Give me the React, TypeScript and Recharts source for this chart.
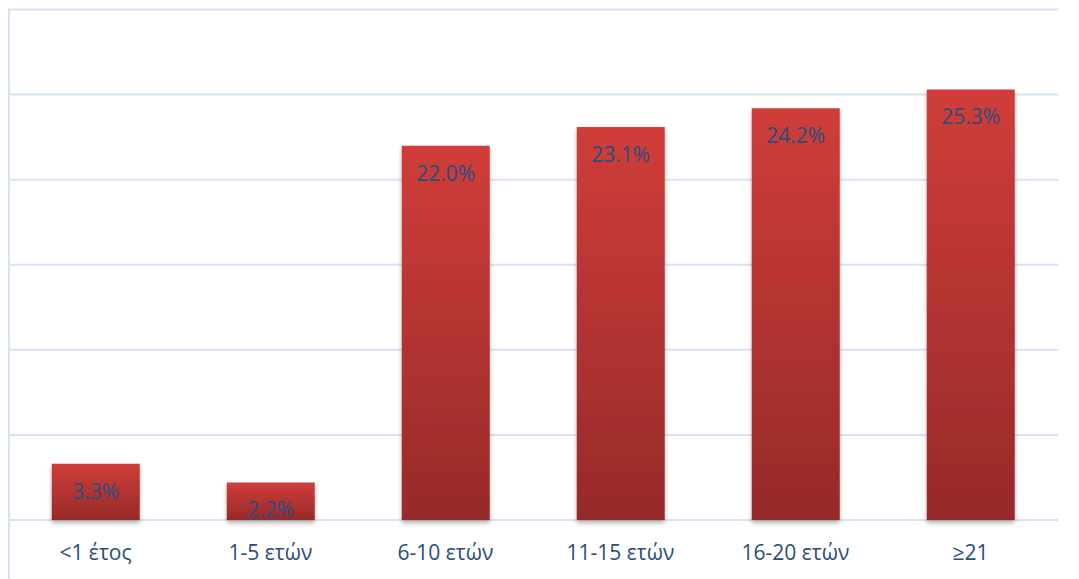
import { BarChart, Bar, XAxis, YAxis, CartesianGrid, LabelList } from 'recharts';

const categories = ['<1 έτος', '1-5 ετών', '6-10 ετών', '11-15 ετών', '16-20 ετών', '≥21'];
const shares = [3.3, 2.2, 22.0, 23.1, 24.2, 25.3];
const yTicks = [0, 5, 10, 15, 20, 25, 30];

const data = categories.map((name, i) => ({ name, share: shares[i] }));

const FONT = '"Open Sans", "Noto Sans", sans-serif';

export default function App() {
  return (
    <div style={{ position: 'relative', width: 1060, height: 571 }}>
      {/* left border that runs the full height */}
      <div style={{ position: 'absolute', left: 0, top: 0, width: 2, height: 571, background: '#d7e3f3' }} />
      <BarChart
        width={1052}
        height={570}
        data={data}
        barCategoryGap="25%"
        margin={{ top: 1.5, right: 2, left: 0, bottom: 0 }}
      >
        <defs>
          <linearGradient id="barFill" x1="0" y1="0" x2="0" y2="1">
            <stop offset="0%" stopColor="#d03d3a" />
            <stop offset="100%" stopColor="#962a29" />
          </linearGradient>
          <filter id="barShadow" x="-10%" y="-10%" width="120%" height="130%">
            <feDropShadow dx="0" dy="3" stdDeviation="2" floodColor="#000" floodOpacity="0.3" />
          </filter>
        </defs>
        <CartesianGrid vertical={false} stroke="#d7e3f3" strokeWidth={2} />
        <YAxis hide domain={[0, 30]} ticks={yTicks} />
        <XAxis
          dataKey="name"
          axisLine={false}
          tickLine={false}
          height={58}
          tickMargin={19}
          tick={{ fill: '#2a4d80', fontSize: 21, fontFamily: FONT }}
          interval={0}
        />
        <Bar
          dataKey="share"
          fill="url(#barFill)"
          filter="url(#barShadow)"
          isAnimationActive={false}
        >
          <LabelList
            dataKey="share"
            position="insideTop"
            offset={20}
            formatter={(v: number) => `${v.toFixed(1)}%`}
            style={{ fill: '#2a4d80', fontSize: 21, fontFamily: FONT }}
          />
        </Bar>
      </BarChart>
    </div>
  );
}
